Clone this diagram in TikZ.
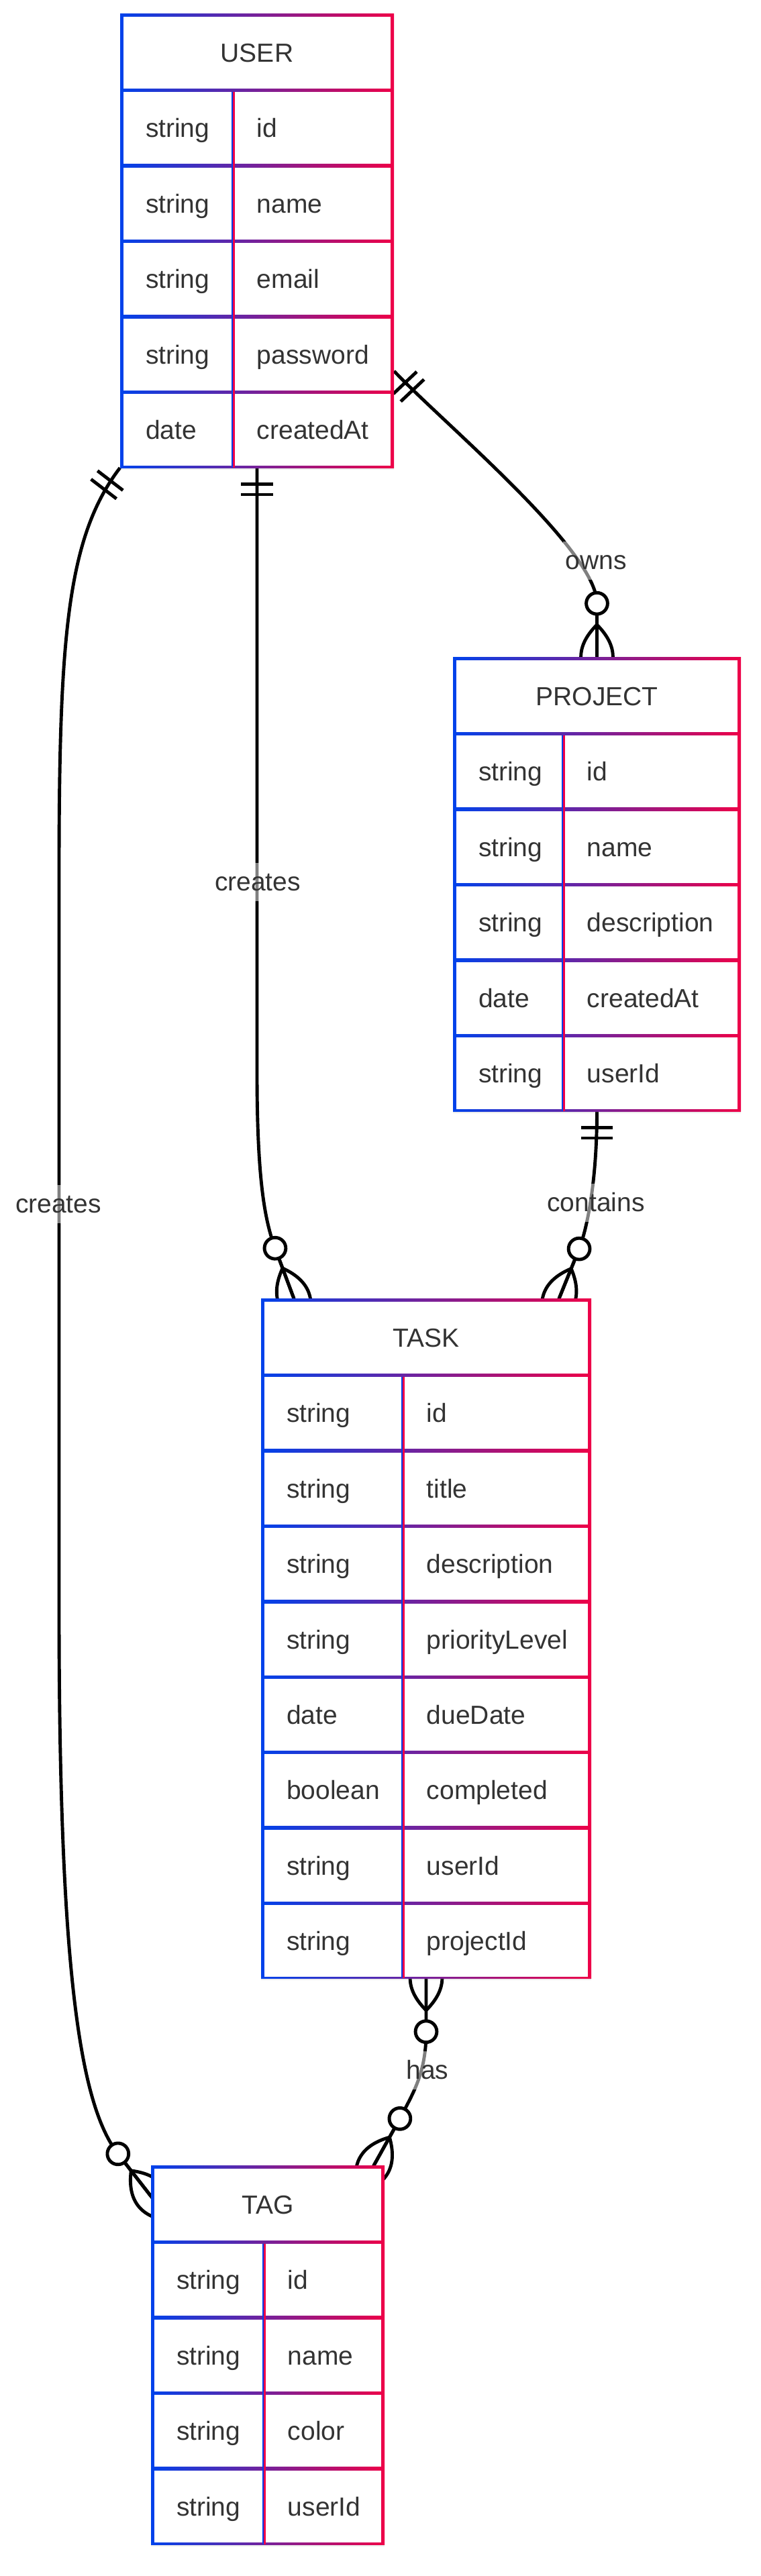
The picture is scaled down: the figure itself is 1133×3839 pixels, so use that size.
\documentclass[tikz,border=0pt]{standalone}
\usepackage{fontspec}
\setmainfont{Liberation Sans}
\usepackage{tikz}
\usetikzlibrary{positioning,backgrounds,shadows,decorations.markings}
\definecolor{erblue}{RGB}{0,66,235}
\definecolor{erred}{RGB}{238,0,72}
\definecolor{ertext}{RGB}{51,51,51}
\hyphenpenalty=10000

\tikzset{
    pics/onlyone/.style={code={
        \draw[relline] (23.9,-23.9) -- (23.9,23.9) (39.75,-23.9) -- (39.75,23.9);
    }},
    pics/zeromany/.style={code={
        \draw[relline] (47.7,0) .. controls (15.9,31.8) and (-15.9,31.8) .. (-47.7,0)
            .. controls (-15.9,-31.8) and (15.9,-31.8) .. (47.7,0);
        \draw[relline] (63.6,0) -- (-23.9,0);
        \draw[relline, fill=white] (79.5,0) circle (15.9pt);
    }}
}

\begin{document}
\begin{tikzpicture}[
    x=1pt, y=-1pt,
    entity/.style={rectangle, inner sep=0pt, left color=erblue, right color=erred, drop shadow={shadow xshift=0pt, shadow yshift=-3pt, opacity=0.15}},
    titlecell/.style={rectangle, fill=white, inner sep=0pt, minimum height=107pt, text height=28pt, text depth=0pt, font=\fontsize{39}{47}\selectfont, text=ertext},
    cell/.style={titlecell, inner xsep=33pt, align=left},
    divblue/.style={erblue, line width=2.5pt},
    divred/.style={erred, line width=2.5pt},
    relline/.style={line width=4.9pt, black},
    rlabel/.style={font=\fontsize{39}{47}\selectfont, text=ertext, fill=white, fill opacity=0.5, text opacity=1, inner xsep=3pt, inner ysep=7pt, text height=35pt, text depth=8pt},
    onestart/.style={postaction={decorate, decoration={markings, mark=at position 0 with {\pic[transform shape]{onlyone};}}}},
    manystart/.style={postaction={decorate, decoration={markings, mark=at position 0 with {\pic[transform shape]{zeromany};}}}},
    manyend/.style={postaction={decorate, decoration={markings, mark=at position 0.9999 with {\pic[transform shape, xscale=-1]{zeromany};}}}}
]
\useasboundingbox (0,0) rectangle (1133,3839);

% USER
\node[entity, minimum width=408pt, minimum height=677pt] (user) at (383,358.5) {};
\node[titlecell, minimum width=398pt, below=5pt of user.north, alias=user-t0] (user-title) {USER};
\foreach \typ/\attr [count=\i, remember=\i as \j (initially 0)] in {string/id, string/name, string/email, string/password, date/createdAt} {
    \node[cell, text width=94.5pt, below=5pt of user-t\j.south west, anchor=north west] (user-t\i) {\typ};
    \node[cell, text width=166.5pt, right=5pt of user-t\i] (user-a\i) {\attr};
}
\draw[divblue] ([xshift=1.25pt]user-t1.north east) -- ([xshift=1.25pt]user-t1.east |- user.south);
\draw[divred] ([xshift=3.75pt]user-t1.north east) -- ([xshift=3.75pt]user-t1.east |- user.south);

% PROJECT
\node[entity, minimum width=429pt, minimum height=677pt] (project) at (889.5,1317.5) {};
\node[titlecell, minimum width=419pt, below=5pt of project.north, alias=project-t0] (project-title) {PROJECT};
\foreach \typ/\attr [count=\i, remember=\i as \j (initially 0)] in {string/id, string/name, string/description, date/createdAt, string/userId} {
    \node[cell, text width=90.5pt, below=5pt of project-t\j.south west, anchor=north west] (project-t\i) {\typ};
    \node[cell, text width=191.5pt, right=5pt of project-t\i] (project-a\i) {\attr};
}
\draw[divblue] ([xshift=1.25pt]project-t1.north east) -- ([xshift=1.25pt]project-t1.east |- project.south);
\draw[divred] ([xshift=3.75pt]project-t1.north east) -- ([xshift=3.75pt]project-t1.east |- project.south);

% TASK
\node[entity, minimum width=492pt, minimum height=1013pt] (task) at (635,2441.5) {};
\node[titlecell, minimum width=482pt, below=5pt of task.north, alias=task-t0] (task-title) {TASK};
\foreach \typ/\attr [count=\i, remember=\i as \j (initially 0)] in {string/id, string/title, string/description, string/priorityLevel, date/dueDate, boolean/completed, string/userId, string/projectId} {
    \node[cell, text width=137.5pt, below=5pt of task-t\j.south west, anchor=north west] (task-t\i) {\typ};
    \node[cell, text width=207.5pt, right=5pt of task-t\i] (task-a\i) {\attr};
}
\draw[divblue] ([xshift=1.25pt]task-t1.north east) -- ([xshift=1.25pt]task-t1.east |- task.south);
\draw[divred] ([xshift=3.75pt]task-t1.north east) -- ([xshift=3.75pt]task-t1.east |- task.south);

% TAG
\node[entity, minimum width=348pt, minimum height=565pt] (tag) at (399,3509.5) {};
\node[titlecell, minimum width=338pt, below=5pt of tag.north, alias=tag-t0] (tag-title) {TAG};
\foreach \typ/\attr [count=\i, remember=\i as \j (initially 0)] in {string/id, string/name, string/color, string/userId} {
    \node[cell, text width=94.5pt, below=5pt of tag-t\j.south west, anchor=north west] (tag-t\i) {\typ};
    \node[cell, text width=106.5pt, right=5pt of tag-t\i] (tag-a\i) {\attr};
}
\draw[divblue] ([xshift=1.25pt]tag-t1.north east) -- ([xshift=1.25pt]tag-t1.east |- tag.south);
\draw[divred] ([xshift=3.75pt]tag-t1.north east) -- ([xshift=3.75pt]tag-t1.east |- tag.south);

% Relationships
\begin{scope}[on background layer]
\draw[relline, onestart, manyend] ([yshift=-194.5pt]user.east) .. controls (660,630) and (889.5,820) .. ([yshift=80pt]project.north) -- (project.north);
\draw[relline, onestart, manyend] (user.south) -- (383,1600) .. controls (383,1760) and (395,1820) .. ([xshift=21pt,yshift=75pt]task.north west) -- ([xshift=49pt]task.north west);
\draw[relline, onestart, manyend] (user.south west) .. controls (100,800) and (88,950) .. (88,1300) -- (88,2400) .. controls (88,2950) and (121,3139) .. ([xshift=-49pt,yshift=17pt]tag.north west) -- ([yshift=-46pt]tag.north west);
\draw[relline, onestart, manyend] (project.south) .. controls (889.5,1760) and (875,1830) .. ([xshift=-18pt,yshift=74pt]task.north east) -- ([xshift=-48pt]task.north east);
\draw[relline, manystart, manyend] (task.south) -- ([yshift=-80pt]task.south) .. controls (635,3090) and (615,3120) .. ([xshift=23pt,yshift=70pt]tag.north east) -- ([xshift=-16pt]tag.north east);
\end{scope}

% Labels
\node[rlabel] (owns) at (888,835) {owns};
\node[rlabel] (createstask) at (384,1314) {creates};
\node[rlabel] (createstag) at (87,1794) {creates};
\node[rlabel] (contains) at (888,1792) {contains};
\node[rlabel] (has) at (637,3085) {has};
\end{tikzpicture}
\end{document}
